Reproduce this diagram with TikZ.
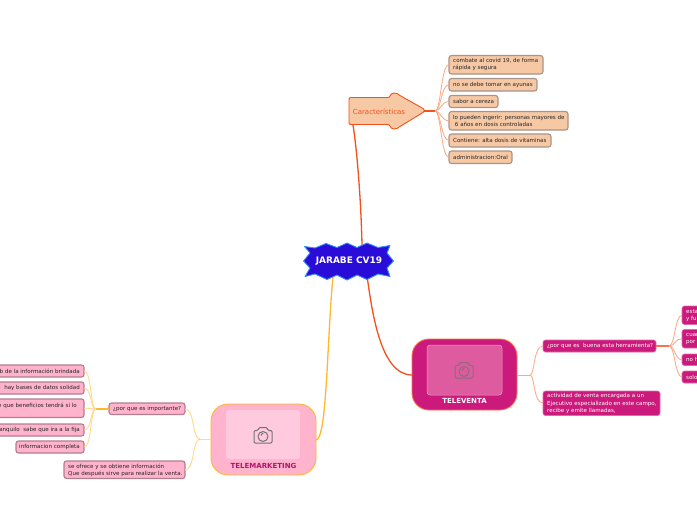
\documentclass[tikz,border=0pt]{standalone}
\usepackage{fontspec}
\setmainfont{DejaVu Sans}
\definecolor{peach}{HTML}{F6C8A4}
\definecolor{orl}{HTML}{F4511E}
\definecolor{orthin}{HTML}{FBAA88}
\definecolor{magen}{HTML}{CC1A7C}
\definecolor{magin}{HTML}{DE5BA0}
\definecolor{pinkf}{HTML}{FFB3CC}
\definecolor{pinkin}{HTML}{FFCADD}
\definecolor{amber}{HTML}{FFB82E}
\definecolor{amthin}{HTML}{FFD98C}
\definecolor{bordg}{HTML}{A89488}
\definecolor{royal}{HTML}{2A0CD8}
\tikzset{
 x=1pt,y=-1pt,
 lab/.style={font=\fontsize{5.55}{7.2}\selectfont,inner sep=0pt,align=left,text=black!85},
 peachbox/.style={draw=bordg,line width=1.1pt,fill=peach,rounded corners=2.5pt},
 pinkbox/.style={draw=black!30!pinkf,line width=1.1pt,fill=pinkf,rounded corners=2.5pt},
 magbox/.style={draw=magen!65!white,line width=.6pt,fill=magen,rounded corners=2.5pt},
 othin/.style={draw=orthin,line width=.85pt},
 athin/.style={draw=amthin,line width=.9pt},
}
\newcommand{\cam}[3]{%
 \begin{scope}[shift={(#1,#2)},draw=#3,line width=1pt,line join=round]
 \draw[rounded corners=1.2pt] (-9,-4.5) -- (-5,-4.5) -- (-4,-7.5) -- (4,-7.5) -- (5,-4.5) -- (9,-4.5) -- (9,8) -- (-9,8) -- cycle;
 \draw (0,1.5) circle (5);
 \draw (-2,0.5) arc (180:280:2);
 \end{scope}}
\begin{document}
\begin{tikzpicture}
\useasboundingbox (0,0) rectangle (697,520);
\fill[white] (0,0) rectangle (697,520);
% main connectors
\coordinate (cT) at (362,245);
\coordinate (cB) at (367,276);
\coordinate (cL) at (333,276);
\draw[orl,line width=1.3pt] (cT) .. controls (361,200) and (357,150) .. (353,125);
\draw[orl,line width=1.3pt] (cB) .. controls (372,310) and (380,375) .. (412,375);
\draw[amber,line width=1.3pt] (cL) .. controls (327,340) and (327,440) .. (316,440);
% Central
\path[draw=blue!55!cyan!80,line width=.9pt,fill=royal,line join=round]
 (304.5,246.5) -- (315,248) -- (326,243.5) -- (337,247.5) -- (347,243) -- (357,247.5) -- (367,243) -- (378,247.5) -- (390,245.5) -- (387,253) -- (393.5,261) -- (387,268) -- (390,276.5) -- (378,274) -- (367,279.5) -- (357,275) -- (347,280) -- (337,275) -- (327,279.5) -- (315,274) -- (305,276.5) -- (310,268) -- (303.5,261) -- (310,253) -- cycle;
\node[font=\bfseries\fontsize{9}{10}\selectfont,text=white,inner sep=0pt] (roott) at (349,261) {JARABE CV19};
% Caracteristicas
\path[draw=orl,line width=.9pt,fill=peach,line join=round]
 (351,97.5) -- (388,97.5) .. controls (390.5,97.5) and (390,93) .. (394,93) .. controls (397,93) and (398,94) .. (400,95.5)
 -- (423,108.5) .. controls (425,110) and (425,111) .. (423,112.5) -- (400,126.5)
 .. controls (398,128) and (397,129) .. (394,129) .. controls (390,129) and (390.5,124.5) .. (388,124.5)
 -- (351,124.5) .. controls (349,124.5) and (349,124) .. (349,122) -- (349,100) .. controls (349,98) and (349,97.5) .. (351,97.5) -- cycle;
\node[font=\fontsize{7}{8}\selectfont,text=orl,inner sep=0pt] (car) at (379,111.5) {Características};
\coordinate (carH) at (435,111);
\draw[orl,line width=1.6pt] (424,111) -- (carH);
\foreach \n/\x/\y/\w/\h/\t in {
 a/449/55.5/94/18.5/{combate al covid 19, de forma\\rápida y segura},
 b/449/78.5/88/12.5/{no se debe tomar en ayunas},
 c/449/95.5/49/12/{sabor a cereza},
 d/449/111.5/119/18.5/{lo pueden ingerir: personas mayores de\\\ 6 años en dosis controladas},
 e/449/134/102/13/{Contiene: alta dosis de vitaminas},
 f/449/151/63/12.5/{administracion:Oral}}{
 \path[peachbox] (\x,\y) rectangle ++(\w,\h);
 \node[lab,anchor=west] (\n) at (453,\y+0.5*\h) {\t};
 \draw[othin] (carH) .. controls (441,111) and (441,\y+0.5*\h) .. (449,\y+0.5*\h);
}
% TELEVENTA
\path[draw=orl!80,line width=.9pt,fill=magen,rounded corners=17pt] (412,339) rectangle (517,410);
\path[draw=magin!60!white,line width=.5pt,fill=magin,rounded corners=3pt] (427,345) rectangle (502,395);
\cam{464}{370}{magen!30!black!60}
\node[font=\bfseries\fontsize{7}{8}\selectfont,text=white,inner sep=0pt] (tv) at (464.5,400.5) {TELEVENTA};
\coordinate (tvR) at (517,375);
\coordinate (tvS) at (530,375);
\draw[othin] (tvR) -- (tvS);
\path[magbox] (543,340) rectangle (656,352);
\node[lab,anchor=west,text=white] (q1) at (547,346) {¿por que es\ \ buena esta herramienta?};
\path[magbox] (543,391) rectangle (660,415.5);
\node[lab,anchor=west,text=white] (q2) at (547,403.5) {actividad de venta encargada a un\\Ejecutivo especializado en este campo,\\recibe y emite llamadas,};
\draw[othin] (tvS) .. controls (535,375) and (533,346) .. (543,346);
\draw[othin] (tvS) .. controls (535,375) and (533,403) .. (543,403);
\coordinate (q1H) at (669,346);
\draw[orl!80,line width=1.5pt] (656,346) -- (q1H);
\foreach \n/\y/\h/\t in {
 r1/306/18.5/{esta\\y fu},
 r2/329.5/18.5/{cuan\\por},
 r3/354/11.5/{no h},
 r4/371/12/{solo}}{
 \path[magbox] (682,\y) rectangle (720,\y+\h);
 \node[lab,anchor=west,text=white] (\n) at (686,\y+0.5*\h) {\t};
 \draw[othin] (q1H) .. controls (675,346) and (675,\y+0.5*\h) .. (682,\y+0.5*\h);
}
% TELEMARKETING
\path[draw=amber,line width=.9pt,fill=pinkf,rounded corners=17pt] (211,404) rectangle (316,475);
\path[fill=pinkin,rounded corners=3pt] (226,410) rectangle (300,459);
\cam{263}{435}{black!55}
\node[font=\bfseries\fontsize{7}{8}\selectfont,text=magen!85!black,inner sep=0pt] (tm) at (263.5,465.5) {TELEMARKETING};
\coordinate (tmL) at (211,439);
\coordinate (tmS) at (200,439);
\draw[athin] (tmL) -- (tmS);
\path[pinkbox] (109,403) rectangle (185,414.5);
\node[lab,anchor=west] (p1) at (113,409) {¿por que es importante?};
\path[pinkbox] (64,461) rectangle (185,478.5);
\node[lab,anchor=west] (p2) at (68,470) {se ofrece y se obtiene información\\Que después sirve para realizar la venta.};
\draw[athin] (tmS) .. controls (192,439) and (195,409) .. (185,409);
\draw[athin] (tmS) .. controls (192,439) and (195,470) .. (185,470);
\coordinate (p1H) at (96,409);
\draw[amber,line width=1.5pt] (109,409) -- (p1H);
\foreach \n/\y/\h/\xl in {
 l1/365/12/-40,
 l2/382/12/-40,
 l3/399/18.5/-40,
 l4/424/12/-40,
 l5/441/12/16}{
 \path[pinkbox] (\xl,\y) rectangle (84,\y+\h);
 \draw[athin] (p1H) .. controls (90,409) and (92,\y+0.5*\h) .. (84,\y+0.5*\h);
}
\node[lab,anchor=east] (l1t) at (80,371) {ib de la información brindada};
\node[lab,anchor=east] (l2t) at (80,388) {i\ \ hay bases de datos solidad};
\node[lab,anchor=east] (l3t) at (77,406) {e que beneficios tendrá si lo};
\node[lab,anchor=east] (l4t) at (80,430) {anquilo\ \ sabe que ira a la fija};
\node[lab,anchor=east] (l5t) at (80,447) {informacion completa};
\end{tikzpicture}
\end{document}
